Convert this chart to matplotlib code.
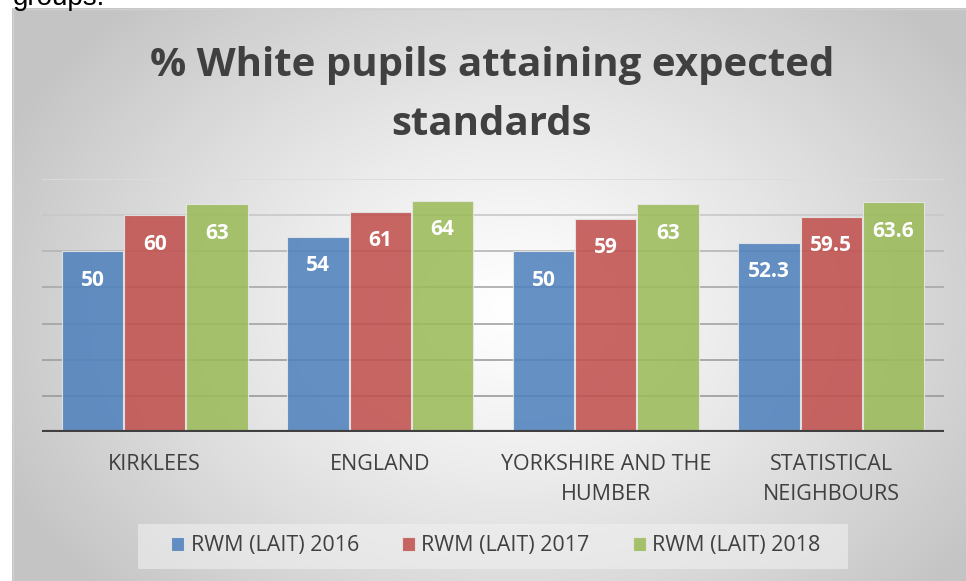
import numpy as np
import matplotlib
matplotlib.use("Agg")
import matplotlib.pyplot as plt
from matplotlib.patches import Rectangle

categories = ["KIRKLEES", "ENGLAND", "YORKSHIRE AND THE\nHUMBER", "STATISTICAL\nNEIGHBOURS"]
series_names = ["RWM (LAIT) 2016", "RWM (LAIT) 2017", "RWM (LAIT) 2018"]
rwm_2016 = [50, 54, 50, 52.3]
rwm_2017 = [60, 61, 59, 59.5]
rwm_2018 = [63, 64, 63, 63.6]
labels_2016 = ["50", "54", "50", "52.3"]
labels_2017 = ["60", "61", "59", "59.5"]
labels_2018 = ["63", "64", "63", "63.6"]
title = "% White pupils attaining expected\nstandards"

colors = ["#4f81bd", "#c0504d", "#9bbb59"]
FONT = ["Open Sans", "DejaVu Sans"]

W, H = 966, 581
fig = plt.figure(figsize=(W / 100, H / 100), dpi=100)
fig.patch.set_facecolor("white")

# partly visible text above the chart
fig.text(13 / W, 1 - 5 / H, "groups.", fontsize=20, family=["Liberation Sans", "DejaVu Sans"],
         color="black", ha="left", va="baseline")

# chart frame with radial gradient
fx0, fy0 = 12, 8
bg = fig.add_axes([fx0 / W, 0, 1 - fx0 / W, 1 - fy0 / H])
bg.set_axis_off()
gw, gh = W - fx0, H - fy0
xx, yy = np.meshgrid(np.arange(gw), np.arange(gh))
cx, cy = 500, 300
d = np.sqrt(((xx - cx) / 560.0) ** 2 + ((yy - cy) / 420.0) ** 2)
d = np.clip(d, 0, 1)
v = 1.0 - 0.23 * d ** 1.2
img = np.dstack([v, v, v])
bg.imshow(img, aspect="auto", extent=[0, gw, gh, 0])
bg.set_xlim(0, gw)
bg.set_ylim(gh, 0)
bg.plot([0, gw], [0.5, 0.5], color="#d0d0d0", lw=1)
bg.plot([0.5, 0.5], [0, gh], color="#d0d0d0", lw=1)

# legend box
bg.add_patch(Rectangle((138 - fx0, 524 - fy0), 710, 45, facecolor="#f0f0f0", alpha=0.6, edgecolor="none"))

# main axes
ax_l, ax_r, ax_b, ax_t = 42, 944, 432, 179
ax = fig.add_axes([ax_l / W, 1 - ax_b / H, (ax_r - ax_l) / W, (ax_b - ax_t) / H])
ax.patch.set_alpha(0)
ax.set_xlim(-0.5, len(categories) - 0.5)
ax.set_ylim(0, 70)

grid_cols = ["#9a9a9a", "#9e9e9e", "#a3a3a3", "#a8a8a8", "#b5b5b5", "#c8c8c8", "#dcdcdc"]
for i, yv in enumerate(range(10, 80, 10)):
    ax.axhline(yv, color=grid_cols[i], lw=1.2, zorder=1)

x = np.arange(len(categories))
bw = 0.272
allvals = [rwm_2016, rwm_2017, rwm_2018]
alllabels = [labels_2016, labels_2017, labels_2018]
for k, (vals, labs) in enumerate(zip(allvals, alllabels)):
    xs = x + (k - 1) * (bw + 0.004)
    ax.bar(xs, vals, width=bw, color=colors[k], alpha=0.87, edgecolor="#e8e8e8",
           linewidth=0.8, zorder=2, label=series_names[k])
    for xi, vi, lab in zip(xs, vals, labs):
        ax.annotate(lab, (xi, vi), xytext=(0, -29), textcoords="offset pixels",
                    ha="center", va="center", color="white", fontsize=15,
                    fontweight="bold", family=FONT, zorder=3)

ax.axhline(0, color="#404040", lw=3, zorder=4)
for s in ax.spines.values():
    s.set_visible(False)
ax.set_yticks([])
ax.set_xticks(x)
ax.set_xticklabels(categories, fontsize=15.5, color="#404040", family=FONT, linespacing=1.55)
ax.tick_params(axis="x", length=0, pad=16)
for t in ax.get_xticklabels():
    t.set_va("top")

fig.text(492 / W, 1 - 95 / H, title, ha="center", va="center", fontsize=29,
         fontweight="bold", color="#404040", family=FONT, linespacing=1.68)

leg = ax.legend(loc="center", bbox_to_anchor=(496 / W, 1 - 546 / H), bbox_transform=fig.transFigure,
                ncol=3, frameon=False, prop={"family": FONT, "size": 15.5},
                handlelength=0.6, handleheight=0.6, handletextpad=0.3, columnspacing=2.0)
for t in leg.get_texts():
    t.set_color("#404040")
for h in leg.legend_handles:
    h.set_alpha(0.87)

fig.savefig("out.png", dpi=100)
